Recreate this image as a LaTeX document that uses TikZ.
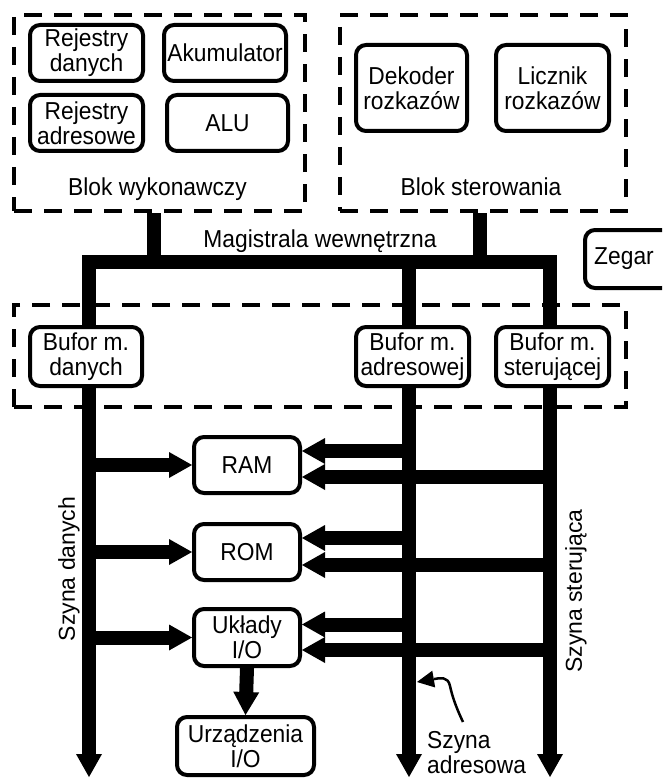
\documentclass[tikz,border=0pt]{standalone}
\usepackage{fontspec}
\setmainfont[FakeStretch=0.93]{Liberation Sans}
\newfontfamily\rotfont{Liberation Sans}
\usetikzlibrary{arrows.meta,backgrounds}
\begin{document}
\begin{tikzpicture}[x=1pt,y=-1pt,
  font=\fontsize{24.5}{25}\selectfont,
  box/.style={draw, line width=4pt, rounded corners=10pt, fill=white, align=center, inner sep=0pt},
  dbox/.style={draw, line width=4pt, dash pattern=on 18pt off 12pt, inner sep=0pt},
  bus/.style={line width=14pt, line join=miter},
  barrow/.style={line width=14pt, -{Triangle[length=23pt,width=26pt,line width=0pt]}},
  lbl/.style={inner sep=0pt}
]
\clip (0,0) rectangle (662,778);
% dashed blocks
\node[dbox, minimum width=291pt, minimum height=196pt] (bw) at (159.5,113) {};
\node[dbox, minimum width=286pt, minimum height=196pt] (bs) at (483,113) {};
\node[dbox, minimum width=612pt, minimum height=102pt] (bb) at (320,356) {};
% execution block
\node[box, minimum width=113pt, minimum height=56pt] (rd) at (86.5,53) {Rejestry\\danych};
\node[box, minimum width=122pt, minimum height=56pt] (ak) at (225,53) {Akumulator};
\node[box, minimum width=113pt, minimum height=56pt] (ra) at (86.5,123) {Rejestry\\adresowe};
\node[box, minimum width=121pt, minimum height=56pt] (alu) at (227.5,123) {ALU};
\node[lbl, anchor=base] (bwl) at (157.5,195) {Blok wykonawczy};
% control block
\node[box, minimum width=111pt, minimum height=86pt] (dek) at (411.5,88) {Dekoder\\rozkazów};
\node[box, minimum width=113pt, minimum height=86pt] (lic) at (552.5,88) {Licznik\\rozkazów};
\node[lbl, anchor=base] (bsl) at (481,195) {Blok sterowania};
% internal bus label, clock
\node[lbl, anchor=base] (mag) at (320,247) {Magistrala wewnętrzna};
\node[box, minimum width=87pt, minimum height=58pt] (zeg) at (628.5,259) {Zegar\hspace*{9pt}};
% buffers
\node[box, minimum width=112pt, minimum height=59pt] (bd) at (86,356.5) {Bufor m.\\danych};
\node[box, minimum width=113pt, minimum height=59pt] (ba) at (412.5,356.5) {Bufor m.\\adresowej};
\node[box, minimum width=113pt, minimum height=59pt] (bc) at (552.5,356.5) {Bufor m.\\sterującej};
% memories and I/O
\node[box, minimum width=106pt, minimum height=56pt] (ram) at (247,465) {RAM};
\node[box, minimum width=106pt, minimum height=56pt] (rom) at (247,552) {ROM};
\node[box, minimum width=106pt, minimum height=57pt] (io) at (247,637.5) {Układy\\I/O};
\node[box, minimum width=137pt, minimum height=58pt] (uio) at (245.5,746) {Urządzenia\\I/O};
% bus labels
\node[lbl, rotate=90, font=\rotfont\fontsize{23}{25}\selectfont] (sd) at (69,569) {Szyna danych};
\node[lbl, rotate=90, font=\rotfont\fontsize{23}{25}\selectfont] (ss) at (576,591) {Szyna sterująca};
\node[lbl, anchor=north west, align=left] (sa) at (427,731) {Szyna\\adresowa};
% coordinates of the buses
\coordinate (sL) at (154,261.5);
\coordinate (sR) at (480,261.5);
\coordinate (dT) at (89,261.5);
\coordinate (aT) at (409,261.5);
\coordinate (cT) at (550,261.5);
\coordinate (dB) at (89,777);
\coordinate (aB) at (409,777);
\coordinate (cB) at (550,777);
\coordinate (cs) at (463,722);
\coordinate (ct) at (417,682);
\begin{scope}[on background layer]
  \draw[bus] (sL |- bw.south) -- (sL);
  \draw[bus] (sR |- bs.south) -- (sR);
  \draw[bus, {Triangle[length=23pt,width=26pt,line width=0pt]}-{Triangle[length=23pt,width=26pt,line width=0pt]}] (dB) -- (dT) -- (cT) -- (cB);
  \draw[barrow] (aT) -- (aB);
  % data bus to devices
  \draw[barrow] (ram.west -| dT) -- (ram.west);
  \draw[barrow] (rom.west -| dT) -- (rom.west);
  \draw[barrow] (io.west -| dT) -- (io.west);
  % address bus to devices
  \draw[barrow] ([yshift=14pt]ram.east -| aT) -- ([yshift=14pt]ram.east);
  \draw[barrow] ([yshift=14pt]rom.east -| aT) -- ([yshift=14pt]rom.east);
  \draw[barrow] ([yshift=13pt]io.east -| aT) -- ([yshift=13pt]io.east);
  % control bus to devices
  \draw[barrow] ([yshift=-12pt]ram.east -| cT) -- ([yshift=-12pt]ram.east);
  \draw[barrow] ([yshift=-13pt]rom.east -| cT) -- ([yshift=-13pt]rom.east);
  \draw[barrow] ([yshift=-12.5pt]io.east -| cT) -- ([yshift=-12.5pt]io.east);
  % I/O to devices
  \draw[barrow] (io.south) -- (uio.north);
\end{scope}
% pointer to the address bus
\draw[line width=2.5pt, -{Triangle[length=17pt,width=17pt,line width=0pt]}]
  (cs) .. controls (455,705) and (452,695) .. (450,686)
       .. controls (448,676) and (440,678) .. (ct);
\end{tikzpicture}
\end{document}
